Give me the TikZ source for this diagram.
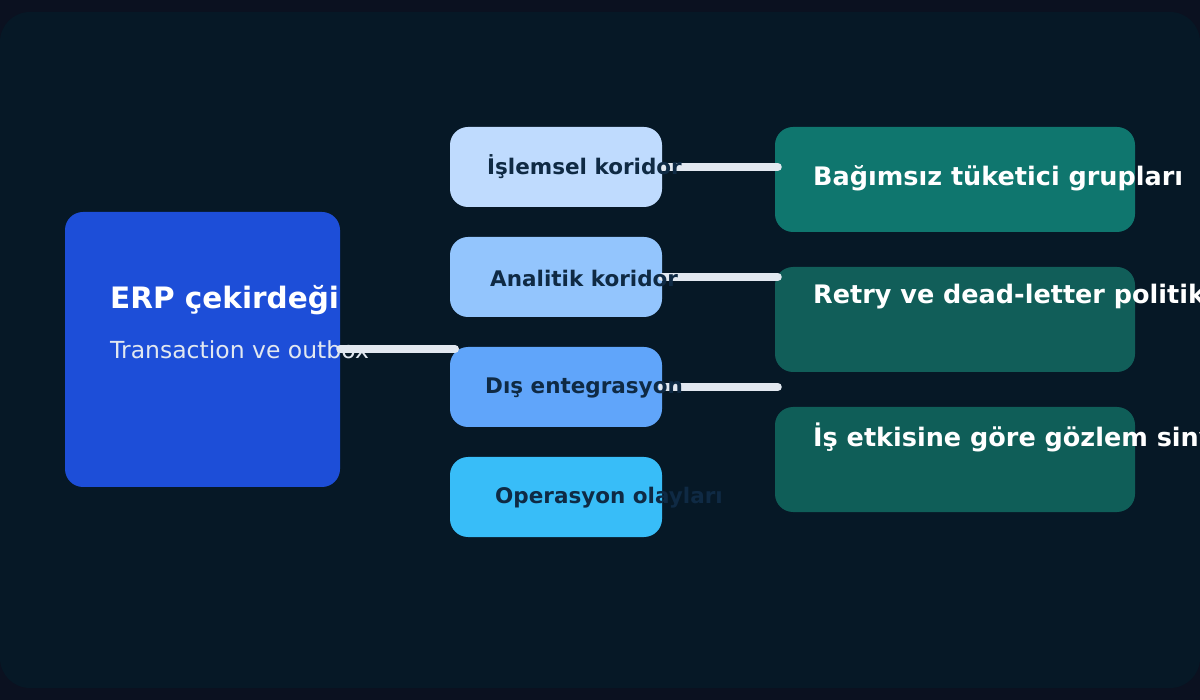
\documentclass[tikz,border=0pt]{standalone}
\usepackage{fontspec}
\setmainfont{DejaVu Sans}
\definecolor{pagebg}{HTML}{0B1120}
\definecolor{panelbg}{HTML}{061826}
\definecolor{coreblue}{HTML}{1D4ED8}
\definecolor{lane1}{HTML}{BFDBFE}
\definecolor{lane2}{HTML}{93C5FD}
\definecolor{lane3}{HTML}{60A5FA}
\definecolor{lane4}{HTML}{38BDF8}
\definecolor{teal1}{HTML}{0F766E}
\definecolor{teal2}{HTML}{115E59}
\definecolor{teal3}{HTML}{0F5E58}
\definecolor{lanetext}{HTML}{0F2A44}
\definecolor{wire}{HTML}{E2E8F0}
\tikzset{
  box/.style={draw=none, rounded corners=18pt, inner sep=0pt},
  lanelabel/.style={anchor=west, font=\bfseries\fontsize{21.5}{26}\selectfont, text=lanetext, inner sep=0pt},
  sinklabel/.style={anchor=west, font=\bfseries\fontsize{25.5}{30}\selectfont, text=white, inner sep=0pt},
  wire/.style={draw=wire, line width=8pt, line cap=round}
}
\begin{document}
\begin{tikzpicture}[x=1pt,y=-1pt]
        \fill[pagebg] (0,0) rectangle (1200,700);
        \fill[panelbg, rounded corners=30pt] (0,12) rectangle (1200,688);
        \useasboundingbox (0,0) rectangle (1200,700);
        \node[box, fill=coreblue, minimum width=275pt, minimum height=275pt] (core) at (202.5,349.5) {};
        \foreach \y/\n/\c in {167/lane1/lane1,277/lane2/lane2,387/lane3/lane3,497/lane4/lane4}{
            \node[box, fill=\c, minimum width=212pt, minimum height=80pt] (\n) at (556,\y) {};
        }
        \foreach \y/\n/\c in {179.5/sink1/teal1,319.5/sink2/teal2,459.5/sink3/teal3}{
            \node[box, fill=\c, minimum width=360pt, minimum height=105pt] (\n) at (955,\y) {};
        }
        \coordinate (corein) at (455,349);
        \draw[wire] (core.east |- corein) -- (corein);
        \foreach \m/\n in {lane1/sink1,lane2/sink2,lane3/sink3}{
            \draw[wire] (\m.east) -- ([xshift=3pt]\m.east -| \n.west);
        }
        \node[anchor=west, inner sep=0pt, text=white, font=\bfseries\fontsize{29.5}{34}\selectfont] (coretitle) at (110,300) {ERP çekirdeği};
        \node[anchor=west, inner sep=0pt, text=wire, font=\fontsize{23.5}{28}\selectfont] (coresub) at (110,350) {Transaction ve outbox};
        \foreach \x/\y/\n/\l in {487/167/lane1/İşlemsel koridor,490/278/lane2/Analitik koridor,485/388/lane3/Dış entegrasyon,495/498/lane4/Operasyon olayları}{
            \node[lanelabel] (\n text) at (\x,\y) {\l};
        }
        \node[sinklabel] (sink1text) at (813,178) {Bağımsız tüketici grupları};
        \node[sinklabel] (sink2text) at (813,297) {Retry ve dead-letter politikası};
        \node[sinklabel] (sink3text) at (813,437) {İş etkisine göre gözlem sinyalleri};
\end{tikzpicture}
\end{document}
